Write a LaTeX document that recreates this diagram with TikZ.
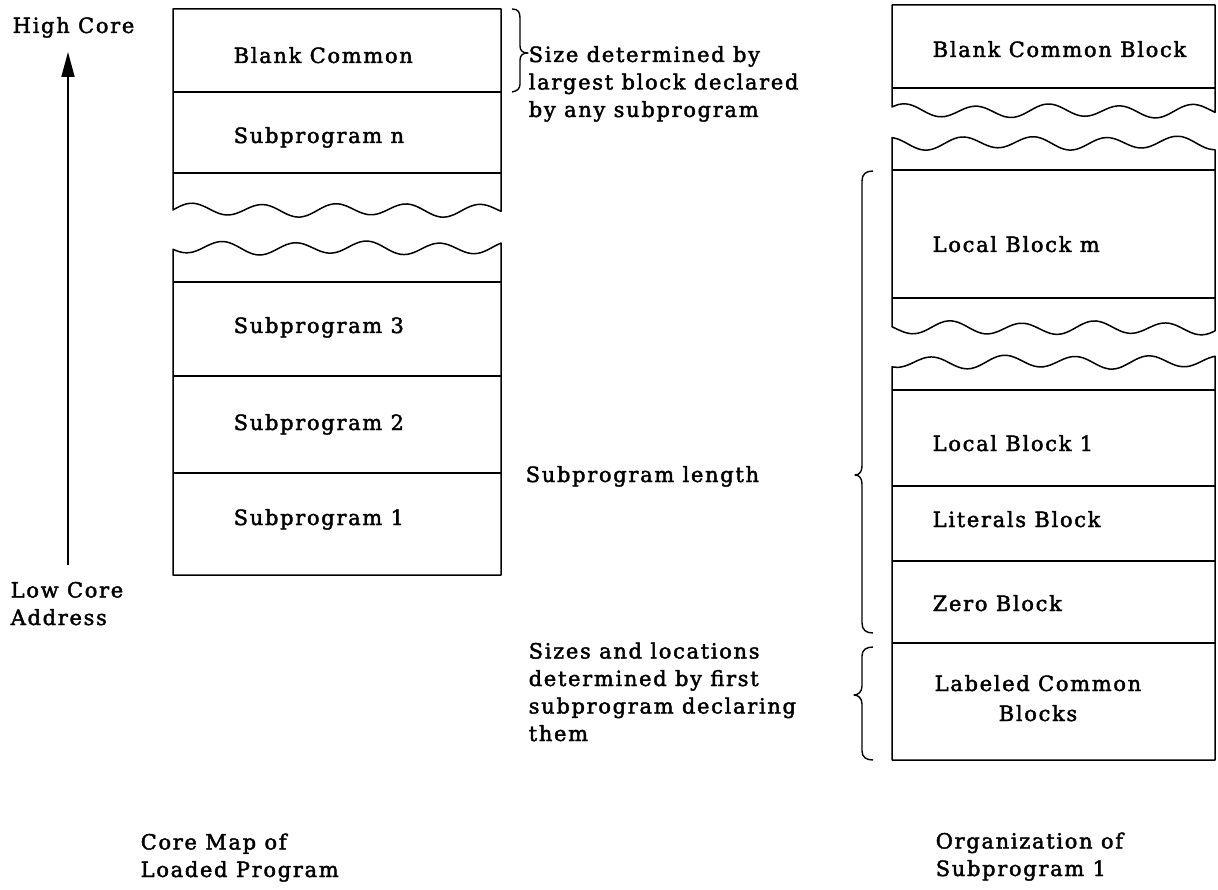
\documentclass[tikz,border=0pt]{standalone}
\usepackage{fontspec}
\setmainfont{DejaVu Serif}[LetterSpace=8,FakeBold=2]
\usetikzlibrary{arrows.meta}
\begin{document}
\begin{tikzpicture}[x=1pt,y=-1pt,line width=1.5pt,line join=round,
  declare function={wv(\t,\p)=6*sin(\t*5.0+\p)+1.2*sin(\t*2.3+2*\p);},
  lbl/.style={anchor=base west,inner sep=0pt,font=\fontsize{21}{27.5}\selectfont,align=left},
  cbl/.style={anchor=base,inner sep=0pt,font=\fontsize{21}{30}\selectfont,align=center},
  wavy/.style={smooth,samples=50},
  brc/.style={line width=1.4pt},
  divider/.style={line width=1.5pt},
  uparrow/.style={line width=1.8pt,-{Triangle[length=25pt,width=13pt]}}]
\useasboundingbox (0,0) rectangle (1218,890);

% ---------- left column: core map ----------
\draw (501,9) -- (173,9) -- plot[wavy,domain=173:501] (\x,{210-wv(\x-173,0)}) -- cycle;
\draw[divider] (173,92) -- (501,92);
\draw[divider] (173,173) -- (501,173);
\draw plot[wavy,domain=173:501] (\x,{248-wv(\x-173,200)}) -- (501,575) -- (173,575) -- cycle;
\draw[divider] (173,282) -- (501,282);
\draw[divider] (173,376) -- (501,376);
\draw[divider] (173,473) -- (501,473);

\node[lbl] (bc) at (233,63) {Blank Common};
\node[lbl] (spn) at (233,143) {Subprogram n};
\node[lbl] (sp3) at (233,333) {Subprogram 3};
\node[lbl] (sp2) at (233,430) {Subprogram 2};
\node[lbl] (sp1) at (233,525) {Subprogram 1};

% address arrow
\node[lbl] (high) at (12,33) {High Core};
\node[lbl] (low) at (10,625) {Low Core\\Address};
\coordinate (arrlow) at (68,565);
\coordinate (arrhigh) at (68,52);
\draw[uparrow] (arrlow) -- (arrhigh);

% brace for blank common
\draw[brc] (512,9) .. controls (518,9) and (520,12) .. (520,18) -- (520,46)
  .. controls (520,51) and (523,53) .. (528,53)
  .. controls (523,53) and (520,55) .. (520,60) -- (520,84)
  .. controls (520,89) and (517,91) .. (512,92);

\node[lbl] (sizedet) at (528,117) {Size determined by\\largest block declared\\by any subprogram};
\node[lbl] (splen) at (525,482) {Subprogram length};
\node[lbl] (sizeloc) at (528,741) {Sizes and locations\\determined by first\\subprogram declaring\\them};

\node[lbl] (cap1) at (140,877) {Core Map of\\Loaded Program};

% ---------- right column: organization ----------
\draw (1215,5) -- (892,5) -- plot[wavy,domain=892:1215] (\x,{111-wv(\x-892,30)}) -- cycle;
\draw[divider] (892,88) -- (1215,88);
\draw plot[wavy,domain=892:1215] (\x,{143-wv(\x-892,100)})
  -- plot[wavy,domain=892:1215] ({2107-\x},{328-wv(1215-\x,160)}) -- cycle;
\draw[divider] (892,170) -- (1215,170);
\draw[divider] (892,298) -- (1215,298);
\draw plot[wavy,domain=892:1215] (\x,{362-wv(\x-892,250)}) -- (1215,760) -- (892,760) -- cycle;
\draw[divider] (892,390) -- (1215,390);
\draw[divider] (892,486) -- (1215,486);
\draw[divider] (892,561) -- (1215,561);
\draw[divider] (892,643) -- (1215,643);

\node[lbl] (bcb) at (932,57) {Blank Common Block};
\node[lbl] (lbm) at (932,252) {Local Block m};
\node[lbl] (lb1) at (932,451) {Local Block 1};
\node[lbl] (litb) at (932,527) {Literals Block};
\node[lbl] (zb) at (932,611) {Zero Block};
\node[cbl] (lcb) at (1038,721) {Labeled Common\\Blocks};

% braces on the left of right column
\draw[brc] (873,171) .. controls (866,171) and (862,174) .. (862,181) -- (862,466)
  .. controls (862,472) and (859,475) .. (855,475)
  .. controls (859,475) and (862,478) .. (862,484) -- (862,623)
  .. controls (862,630) and (866,633) .. (873,633);
\draw[brc] (873,647) .. controls (866,647) and (862,650) .. (862,656) -- (862,686)
  .. controls (862,692) and (858,695) .. (854,695)
  .. controls (858,695) and (862,698) .. (862,704) -- (862,751)
  .. controls (862,757) and (866,760) .. (873,760);

\node[lbl] (cap2) at (935,876) {Organization of\\Subprogram 1};
\end{tikzpicture}
\end{document}
